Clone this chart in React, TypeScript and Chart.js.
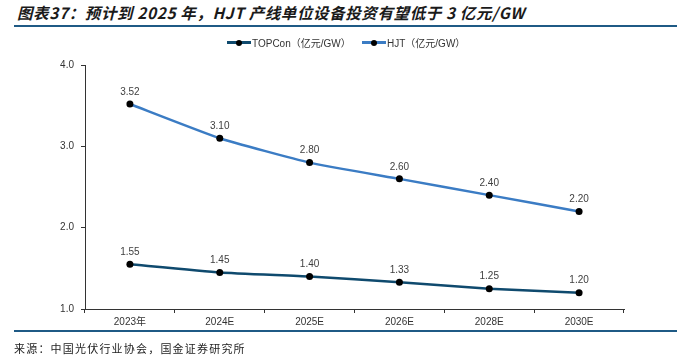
import React, { useEffect, useRef } from "react";
import { Chart, registerables } from "chart.js";

Chart.register(...registerables);

const categories = ["2023年", "2024E", "2025E", "2026E", "2028E", "2030E"];
const topconValues = [1.55, 1.45, 1.4, 1.33, 1.25, 1.2];
const hjtValues = [3.52, 3.1, 2.8, 2.6, 2.4, 2.2];
const seriesNames = ["TOPCon（亿元/GW）", "HJT（亿元/GW）"];
const yTicks = [1.0, 2.0, 3.0, 4.0];

const TOPCON_COLOR = "#0f4a6e";
const HJT_COLOR = "#3b7cc4";
const FONT = "Arial, 'Liberation Sans', 'Noto Sans CJK SC', sans-serif";

const labelPlugin = {
  id: "pointLabels",
  afterDatasetsDraw(chart: any) {
    const ctx = chart.ctx;
    ctx.save();
    ctx.font = `10px ${FONT}`;
    ctx.fillStyle = "#404040";
    ctx.textAlign = "center";
    ctx.textBaseline = "bottom";
    chart.data.datasets.forEach((ds: any, i: number) => {
      const meta = chart.getDatasetMeta(i);
      meta.data.forEach((pt: any, j: number) => {
        ctx.fillText(Number(ds.data[j]).toFixed(2), pt.x, pt.y - 7);
      });
    });
    ctx.restore();
  },
};

function LegendItem({ color, label, left }: { color: string; label: string; left: number }) {
  return (
    <div style={{ position: "absolute", left, top: 35, height: 14, display: "flex", alignItems: "center" }}>
      <div style={{ position: "relative", width: 24, height: 14 }}>
        <div style={{ position: "absolute", left: 0, top: 6, width: 24, height: 3, background: color }} />
        <div style={{ position: "absolute", left: 9, top: 4.5, width: 6, height: 6, borderRadius: 3, background: "#000" }} />
      </div>
      <span style={{ fontFamily: FONT, fontSize: 10, color: "#333", marginLeft: 1, whiteSpace: "nowrap" }}>{label}</span>
    </div>
  );
}

export default function App() {
  const ref = useRef<HTMLCanvasElement>(null);

  useEffect(() => {
    document.body.style.margin = "0";
    const chart = new Chart(ref.current as HTMLCanvasElement, {
      type: "line",
      data: {
        labels: categories,
        datasets: [
          {
            label: seriesNames[0],
            data: topconValues,
            borderColor: TOPCON_COLOR,
            backgroundColor: "#000",
            borderWidth: 2.5,
            pointRadius: 3.5,
            pointBackgroundColor: "#000",
            pointBorderColor: "#000",
            pointBorderWidth: 0,
            tension: 0.15,
          },
          {
            label: seriesNames[1],
            data: hjtValues,
            borderColor: HJT_COLOR,
            backgroundColor: "#000",
            borderWidth: 2.5,
            pointRadius: 3.5,
            pointBackgroundColor: "#000",
            pointBorderColor: "#000",
            pointBorderWidth: 0,
            tension: 0.15,
          },
        ],
      },
      options: {
        animation: false,
        responsive: false,
        maintainAspectRatio: false,
        layout: { padding: { left: 0, right: 53, top: 65, bottom: 0 } },
        plugins: { legend: { display: false }, tooltip: { enabled: false }, title: { display: false } },
        scales: {
          x: {
            offset: true,
            grid: { display: true, drawOnChartArea: false, drawTicks: true, tickLength: 4, offset: true, color: "#333" },
            border: { display: true, color: "#333", width: 1 },
            ticks: { font: { size: 10, family: FONT }, color: "#333", padding: 3, maxRotation: 0 },
            afterFit: (s: any) => {
              s.height = 50;
            },
          },
          y: {
            min: 1,
            max: 4,
            afterBuildTicks: (s: any) => {
              s.ticks = yTicks.map((v) => ({ value: v }));
            },
            grid: { display: true, drawOnChartArea: false, drawTicks: true, tickLength: 4, color: "#333" },
            border: { display: true, color: "#333", width: 1 },
            ticks: {
              font: { size: 10, family: FONT },
              color: "#333",
              padding: 7,
              callback: (v: any) => Number(v).toFixed(1),
            },
            afterFit: (s: any) => {
              s.width = 85;
            },
          },
        },
      },
      plugins: [labelPlugin],
    });
    return () => chart.destroy();
  }, []);

  return (
    <div style={{ position: "relative", width: 677, height: 359, background: "#fff", overflow: "hidden" }}>
      <div
        style={{
          position: "absolute",
          left: 17,
          top: 2,
          fontFamily: "'Noto Sans CJK SC', sans-serif",
          fontSize: 15.5,
          fontWeight: "bold",
          fontStyle: "italic",
          color: "#1a1a1a",
          whiteSpace: "nowrap",
          lineHeight: "20px",
          letterSpacing: "0.6px",
        }}
      >
        图表37：预计到 2025 年，HJT 产线单位设备投资有望低于 3 亿元/GW
      </div>
      <div style={{ position: "absolute", left: 14, top: 25, width: 663, height: 2, background: "#1f5a85" }} />
      <canvas ref={ref} width={677} height={359} style={{ position: "absolute", left: 0, top: 0 }} />
      <LegendItem color={TOPCON_COLOR} label={seriesNames[0]} left={227} />
      <LegendItem color={HJT_COLOR} label={seriesNames[1]} left={362} />
      <div style={{ position: "absolute", left: 14, top: 330, width: 663, height: 2, background: "#1f5a85" }} />
      <div
        style={{
          position: "absolute",
          left: 14,
          top: 340,
          fontFamily: "'Noto Sans CJK SC', sans-serif",
          fontSize: 11,
          color: "#222",
          whiteSpace: "nowrap",
          lineHeight: "16px",
          letterSpacing: "1.2px",
        }}
      >
        来源：中国光伏行业协会，国金证券研究所
      </div>
    </div>
  );
}
